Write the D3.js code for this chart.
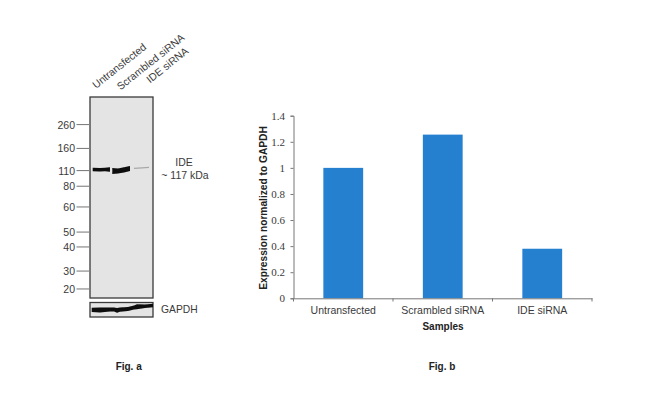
<!DOCTYPE html>
<html><head><meta charset="utf-8">
<script src="https://cdn.jsdelivr.net/npm/d3@7"></script>
<style>html,body{margin:0;padding:0;background:#fff}svg{display:block}</style>
</head><body><svg id="c" width="650" height="415"></svg>
<script>
// Fig. b
const samples = ["Untransfected","Scrambled siRNA","IDE siRNA"];
const expression = [1.0,1.255,0.38];
const yTicks = [0,0.2,0.4,0.6,0.8,1,1.2,1.4];
// Fig. a: marker ladder, as fractions of the blot height
const markerLabels = [260,160,110,80,60,50,40,30,20];
const markerMigration = [0.137,0.256,0.366,0.444,0.547,0.672,0.746,0.866,0.955];
// IDE bands: lane position, upper and lower edge as fractions of the blot
const band1Pos = [0.043,0.159,0.238,0.317];
const band1Top = [0.352,0.353,0.352,0.350];
const band1Bot = [0.369,0.371,0.369,0.372];
const band2Pos = [0.354,0.444,0.540,0.635];
const band2Top = [0.353,0.356,0.350,0.343];
const band2Bot = [0.383,0.380,0.376,0.368];
const band3Pos = [0.698,0.825,0.937];
const band3Top = [0.352,0.350,0.347];
const band3Bot = [0.358,0.356,0.353];
// GAPDH band, edges as fractions of the strip height
const gapdhPos = [0.027,0.159,0.317,0.381,0.429,0.476,0.603,0.698,0.746,0.873,1];
const gapdhTop = [0.36,0.345,0.345,0.345,0.38,0.345,0.31,0.21,0.12,0.14,0.09];
const gapdhBot = [0.655,0.69,0.62,0.62,0.71,0.64,0.59,0.48,0.47,0.38,0.33];

const svg=d3.select("#c");
const sans="Liberation Sans, Arial, sans-serif", serif="Liberation Serif, Times New Roman, serif";
const textC="#3a3a3a";
svg.append("defs").append("filter").attr("id","soft").append("feGaussianBlur").attr("stdDeviation",0.35);

// chart b
const x=d3.scaleBand().domain(samples).range([293.5,592]).paddingInner(0.6).paddingOuter(0.3);
const xOuter=d3.scaleBand().domain(samples).range([293.5,592]);
const y=d3.scaleLinear().domain([0,1.4]).range([298.3,115.7]);
svg.append("g").selectAll("rect").data(samples).join("rect")
 .attr("x",d=>x(d)).attr("width",x.bandwidth())
 .attr("y",(d,i)=>y(expression[i])).attr("height",(d,i)=>y(0)-y(expression[i]))
 .attr("fill","#2680d0");
const ya=svg.append("g").attr("transform","translate(293.5,0)")
 .call(d3.axisLeft(y).tickValues(yTicks).tickFormat(d3.format("~g")).tickSize(3).tickPadding(5.5));
ya.selectAll("text").attr("font-family",serif).attr("font-size",11).attr("fill",textC);
const xa=svg.append("g").attr("transform","translate(0,298.3)")
 .call(d3.axisBottom(xOuter).tickSize(0).tickPadding(8));
xa.selectAll("text").attr("font-family",sans).attr("font-size",10.5).attr("fill",textC);
svg.append("g").selectAll("line").data([...samples.map(d=>xOuter(d)),592]).join("line")
 .attr("x1",d=>d).attr("x2",d=>d).attr("y1",298.3).attr("y2",301.5).attr("stroke","#777");
svg.selectAll(".domain").attr("stroke","#777");
ya.selectAll("line").attr("stroke","#777");
svg.append("text").text("Samples").attr("x",443).attr("y",329.5).attr("text-anchor","middle")
 .attr("font-family",sans).attr("font-size",10).attr("font-weight","bold").attr("fill","#222");
svg.append("text").text("Expression normalized to GAPDH").attr("transform","translate(266.5,208) rotate(-90)")
 .attr("text-anchor","middle").attr("font-family",sans).attr("font-size",10.2).attr("font-weight","bold").attr("fill","#222");
svg.append("text").text("Fig. b").attr("x",442).attr("y",370).attr("text-anchor","middle")
 .attr("font-family",sans).attr("font-size",10).attr("font-weight","bold").attr("fill","#222");

// chart a
const blotX=d3.scaleLinear().domain([0,1]).range([90,153]);
const blotY=d3.scaleLinear().domain([0,1]).range([97,298]);
const stripY=d3.scaleLinear().domain([0,1]).range([302.5,317]);
svg.append("rect").attr("x",blotX(0)).attr("y",blotY(0)).attr("width",blotX(1)-blotX(0)).attr("height",blotY(1)-blotY(0))
 .attr("fill","#e4e4e4").attr("stroke","#3a3a3a").attr("stroke-width",1.3);
svg.append("rect").attr("x",blotX(0)).attr("y",stripY(0)).attr("width",blotX(1)-blotX(0)).attr("height",stripY(1)-stripY(0))
 .attr("fill","#e4e4e4").attr("stroke","#3a3a3a").attr("stroke-width",1.3);

const bandArea=(yScale)=>d3.area().x(d=>blotX(d[0])).y0(d=>yScale(d[1])).y1(d=>yScale(d[2]));
const bands=[
 {pos:band1Pos,top:band1Top,bot:band1Bot,fill:"#0a0a0a",s:blotY},
 {pos:band2Pos,top:band2Top,bot:band2Bot,fill:"#0a0a0a",s:blotY},
 {pos:band3Pos,top:band3Top,bot:band3Bot,fill:"#a8a8a8",s:blotY},
 {pos:gapdhPos,top:gapdhTop,bot:gapdhBot,fill:"#0a0a0a",s:stripY}
];
svg.append("g").attr("filter","url(#soft)").selectAll("path").data(bands).join("path")
 .attr("fill",b=>b.fill)
 .attr("d",b=>bandArea(b.s)(b.pos.map((p,i)=>[p,b.top[i],b.bot[i]])));

svg.append("g").selectAll("line").data(markerMigration).join("line")
 .attr("x1",76.5).attr("x2",blotX(0)).attr("y1",d=>blotY(d)).attr("y2",d=>blotY(d)).attr("stroke","#808080").attr("stroke-width",1.1);
svg.append("g").selectAll("text").data(markerLabels).join("text").text(d=>d)
 .attr("x",75).attr("y",(d,i)=>blotY(markerMigration[i])+4).attr("text-anchor","end")
 .attr("font-family",sans).attr("font-size",10.5).attr("fill",textC);
svg.append("g").selectAll("text").data(samples).join("text").text(d=>d)
 .attr("transform",(d,i)=>`translate(${[96,120.5,150][i]},${[89,90.5,83.5][i]}) rotate(-38.5)`)
 .attr("font-family",sans).attr("font-size",10.5).attr("fill",textC);
svg.append("text").text("IDE").attr("x",184).attr("y",165.5).attr("text-anchor","middle").attr("font-family",sans).attr("font-size",10.5).attr("fill",textC);
svg.append("text").text("~ 117 kDa").attr("x",185).attr("y",178.5).attr("text-anchor","middle").attr("font-family",sans).attr("font-size",10.5).attr("fill",textC);
svg.append("text").text("GAPDH").attr("x",161).attr("y",313).attr("font-family",sans).attr("font-size",10.3).attr("fill",textC);
svg.append("text").text("Fig. a").attr("x",128.7).attr("y",370).attr("text-anchor","middle").attr("font-family",sans).attr("font-size",10).attr("font-weight","bold").attr("fill","#222");
</script></body></html>
